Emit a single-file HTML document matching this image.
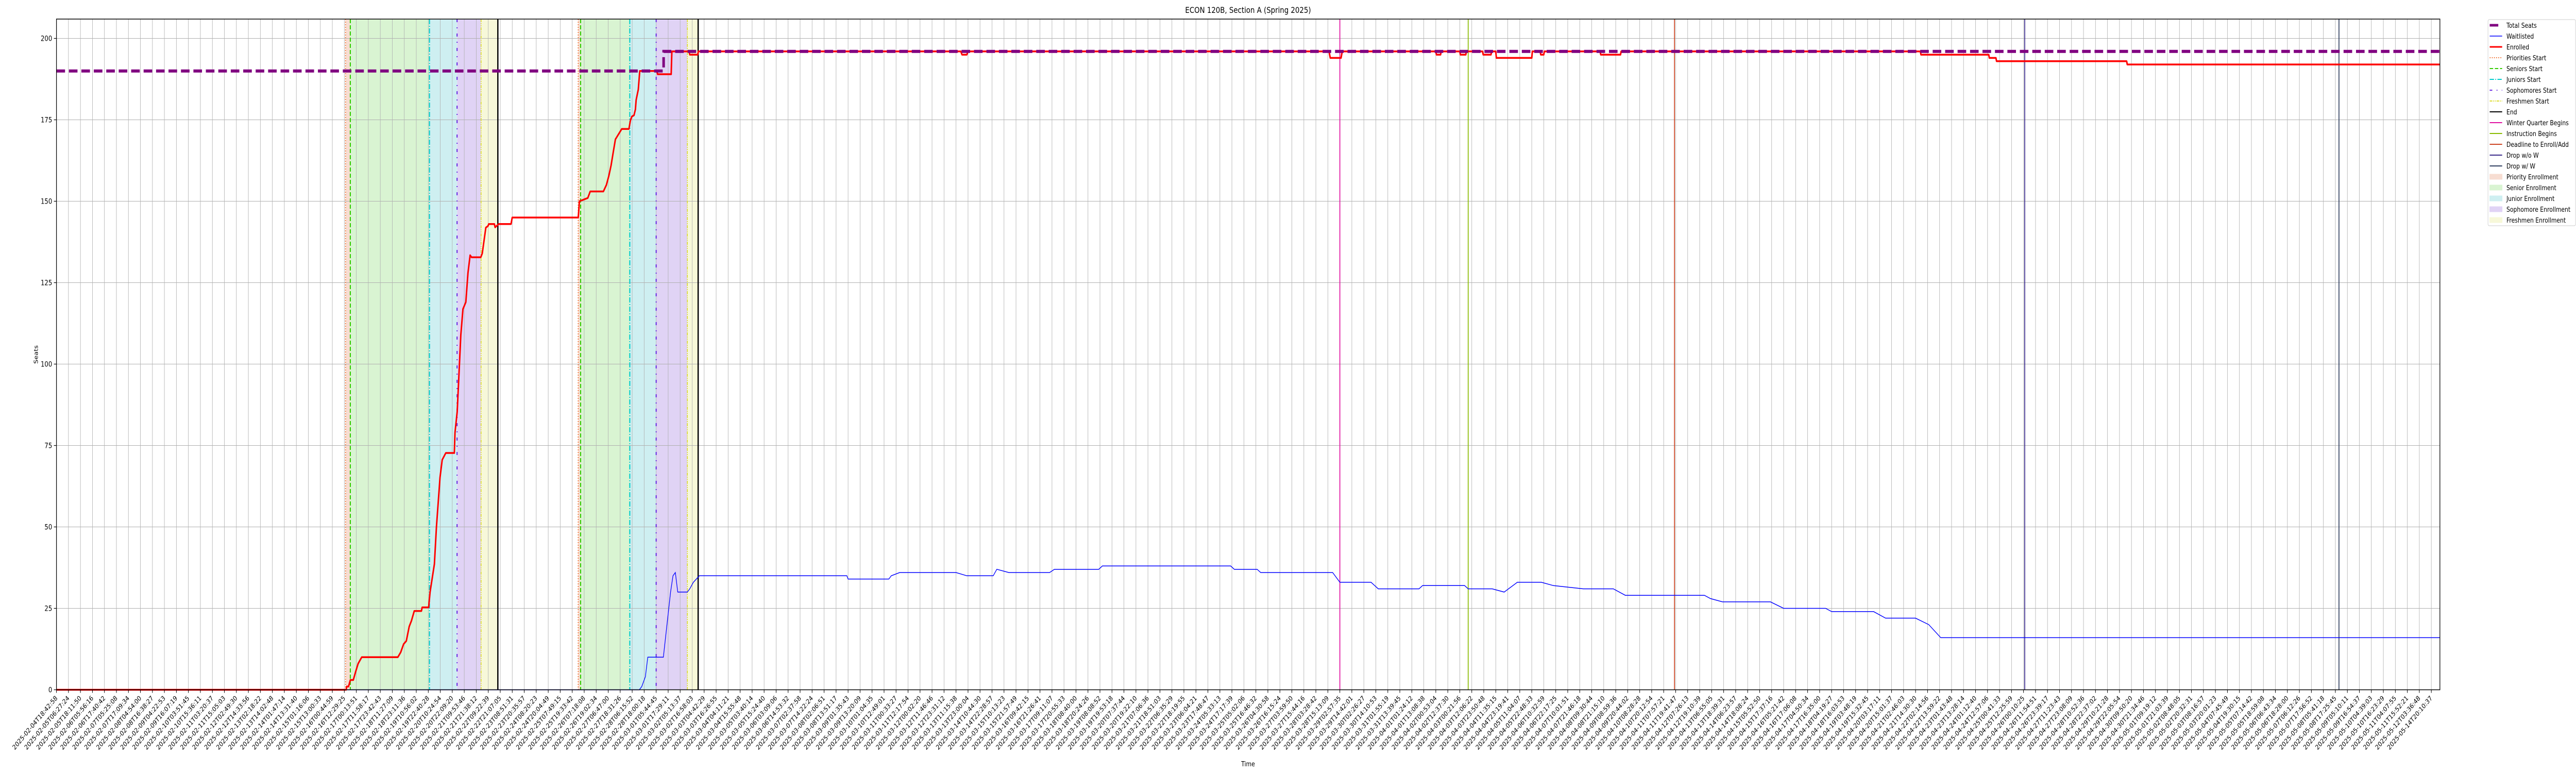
<!DOCTYPE html>
<html>
<head>
<meta charset="utf-8">
<style>
html,body{margin:0;padding:0;background:#fff;width:100vw;height:100vh;overflow:hidden;}
svg{display:block;width:100vw;height:100vh;font-family:"DejaVu Sans","Liberation Sans",sans-serif;}
</style>
</head>
<body>
<svg id="chart" viewBox="0 0 6000 1500" preserveAspectRatio="none" xmlns="http://www.w3.org/2000/svg">
  <text x="2907" y="25" font-size="16" text-anchor="middle">ECON 120B, Section A (Spring 2025)</text>
  <text x="2907" y="1487" font-size="13" text-anchor="middle">Time</text>
  <text x="0" y="0" font-size="13" text-anchor="middle" transform="translate(88,688) rotate(-90)">Seats</text>
  <g id="shades"></g>
  <g id="grid"></g>
  <g id="vlines"></g>
  <g id="series"></g>
  <g id="axes"></g>
  <g id="legend"></g>
</svg>
<script>
// ---- data ----
const yTicks = [0, 25, 50, 75, 100, 125, 150, 175, 200];
const tickStart = "2025-02-04T18:42:58";
const tickLastRegular = "2025-05-12T03:36:48";
const tickFinal = "2025-05-14T20:10:37";
const tickCount = 199;

const seatsX = [0, 50.62, 50.62, 198.7];
const seatsY = [190, 190, 196, 196];

const enrolledX = [0,24.15,24.2,24.35,24.5,24.75,24.95,25.15,25.45,28.46,28.7,28.94,29.17,29.41,29.6,29.83,30.43,30.49,31.03,31.15,31.51,31.68,31.98,32.16,32.46,33.17,33.23,33.41,33.59,33.71,33.89,34.13,34.31,34.49,34.61,35.38,35.5,35.8,35.98,36.04,36.51,36.57,36.87,37.9,38.0,43.5,43.6,44.3,44.5,45.6,45.85,46.06,46.24,46.42,46.6,47.13,47.73,47.85,47.97,48.15,48.27,48.33,48.51,48.63,50.06,50.12,51.25,51.31,52.74,52.8,53.46,53.52,75.4,75.5,75.9,76.0,106.1,106.2,107.1,107.2,115.0,115.05,115.4,115.45,117.0,117.05,117.5,117.55,118.9,118.95,119.6,119.65,120.0,120.05,123.0,123.05,123.7,123.75,124.0,124.05,128.7,128.75,130.4,130.45,155.4,155.45,161.1,161.15,161.7,161.75,172.6,172.65,198.7];
const enrolledY = [0,0,1,1,3,3,5.6,8,10,10,11.5,14,15,19.4,21.2,24.2,24.2,25.3,25.3,30,38.6,49.9,65.2,70.6,72.7,72.7,79,85.4,99.3,108.9,116.9,119,128,133.4,132.8,132.8,134,141.9,142.4,143,143,142,143,143,145,145,150,151,153,153,155,157.9,161,165,169,172.2,172.2,174.8,176,176.4,178.2,181.1,184.3,190,190,189,189,196,196,195,195,196,196,195,195,196,196,194,194,196,196,195,195,196,196,195,195,196,196,195,195,196,196,194,194,196,196,195,195,196,196,195,195,196,196,195,195,194,194,193,193,192,192];

const waitX = [0,48.6,48.8,49.1,49.3,50.6,50.9,51.2,51.4,51.6,51.8,52.6,52.8,53.1,53.6,65.9,66.0,69.4,69.6,70.3,75.0,75.9,78.1,78.4,79.4,82.8,83.2,86.9,87.2,97.9,98.2,100.1,100.4,106.4,107.0,109.6,110.2,113.6,113.9,117.4,117.7,119.7,120.7,121.8,123.8,124.8,127.3,129.8,130.8,137.4,137.9,138.9,142.9,144.0,147.5,148.0,151.5,152.5,155.0,156.1,157.1,198.7];
const waitY = [0,0,1,4,10,10,20,30,35,36,30,30,31,33,35,35,34,34,35,36,36,35,35,37,36,36,37,37,38,38,37,37,36,36,33,33,31,31,32,32,31,31,30,33,33,32,31,31,29,29,28,27,27,25,25,24,24,22,22,20,16,16];

const eventNames = ["priorities-start","seniors-start","juniors-start","sophomores-start","freshmen-start","end"];
const block1 = [24.1, 24.5, 31.1, 33.4, 35.4, 36.8];
const block2 = [43.5, 43.7, 47.8, 50.0, 52.6, 53.5];
const winterBegins = 107.0;
const instructionBegins = 117.7;
const deadlineAdd = 134.9;
const dropNoW = 164.1;
const dropW = 190.3;

// ---- scales ----
const X0 = 131.5, XSTEP = 27.937, XMAX = 5683;
const Y0 = 1338.5, YPX = 6.32, YTOP = 37;
function sx(u){ return X0 + u*XSTEP; }
function sy(v){ return Y0 - v*YPX; }
const NS = "http://www.w3.org/2000/svg";
function mk(tag, parent, attrs){
  const e = document.createElementNS(NS, tag);
  for (const k in attrs) e.setAttribute(k, attrs[k]);
  parent.appendChild(e);
  return e;
}
const shades = document.getElementById('shades');
const grid = document.getElementById('grid');
const vlines = document.getElementById('vlines');
const series = document.getElementById('series');
const axes = document.getElementById('axes');
const legend = document.getElementById('legend');

// shading
const shadeColors = ["#f7ddd2","#d9f4d2","#ceeff1","#e0d3f5","#f7f8d9"];
const shadeNames = ["priority-enrollment","senior-enrollment","junior-enrollment","sophomore-enrollment","freshmen-enrollment"];
[block1, block2].forEach(function(b){
  for (let i = 0; i < 5; i++){
    const r = mk('rect', shades, {x: sx(b[i]), y: YTOP, width: sx(b[i+1]) - sx(b[i]), height: Y0 - YTOP, fill: shadeColors[i]});
    
    
  }
});

// tick labels
function fmt(d){
  const p = n => String(n).padStart(2,'0');
  return d.getUTCFullYear()+"-"+p(d.getUTCMonth()+1)+"-"+p(d.getUTCDate())+"T"+p(d.getUTCHours())+":"+p(d.getUTCMinutes())+":"+p(d.getUTCSeconds());
}
const t0 = Date.parse(tickStart+"Z"), t1 = Date.parse(tickLastRegular+"Z");
const xTickLabels = [];
for (let i = 0; i < tickCount - 1; i++){
  xTickLabels.push(fmt(new Date(t0 + (t1 - t0) * i / (tickCount - 2))));
}
xTickLabels.push(tickFinal);

// grid
for (let i = 0; i < tickCount; i++){
  const x = sx(i);
  const l = mk('line', grid, {x1: x, x2: x, y1: YTOP, y2: Y0, stroke: "#b0b0b0", "stroke-width": 1});
  
  
}
yTicks.forEach(function(v){
  const l = mk('line', grid, {x1: X0, x2: XMAX, y1: sy(v), y2: sy(v), stroke: "#b0b0b0", "stroke-width": 1});
  
  
});

// event lines
const evStyles = [
  {c:"#f07030", w:2, d:"2 3"},
  {c:"#33cc00", w:2.5, d:"8 4"},
  {c:"#00cccc", w:2.5, d:"10 3 2 3"},
  {c:"#6a2be2", w:2.5, d:"6 10 2 10"},
  {c:"#dddd33", w:2, d:"6 2 2 2 2 2"},
  {c:"#000000", w:3, d:"none"}
];
[block1, block2].forEach(function(b){
  b.forEach(function(u, i){
    const s = evStyles[i];
    const l = mk('line', vlines, {x1: sx(u), x2: sx(u), y1: YTOP, y2: Y0, stroke: s.c, "stroke-width": s.w, "stroke-dasharray": s.d});
    
    
  });
});
const otherEvents = [[winterBegins,"#e010a0","winter-quarter-begins-line"],[instructionBegins,"#88bb00","instruction-begins-line"],[deadlineAdd,"#cc4422","deadline-enroll-add-line"],[dropNoW,"#3a2a8a","drop-without-w-line"],[dropW,"#2f3f60","drop-with-w-line"]];
otherEvents.forEach(function(ev){
  const l = mk('line', vlines, {x1: sx(ev[0]), x2: sx(ev[0]), y1: YTOP, y2: Y0, stroke: ev[1], "stroke-width": 2});
  
  
});

// series
function pts(xs, ys){ return xs.map((u,i)=> sx(u).toFixed(1)+","+sy(ys[i]).toFixed(1)).join(" "); }
const wl = mk('polyline', series, {points: pts(waitX, waitY), fill:"none", stroke:"#0000ff", "stroke-width":1.5});


const el = mk('polyline', series, {points: pts(enrolledX, enrolledY), fill:"none", stroke:"#ff0000", "stroke-width":3.5, "stroke-linejoin":"round"});


const st = mk('polyline', series, {points: pts(seatsX, seatsY), fill:"none", stroke:"#800080", "stroke-width":6, "stroke-dasharray":"20 9"});



// axes frame
const fr = mk('rect', axes, {x: X0, y: YTOP, width: XMAX - X0, height: Y0 - YTOP, fill:"none", stroke:"#000", "stroke-width":1.5});


yTicks.forEach(function(v){
  const y = sy(v);
  const tk = mk('line', axes, {x1: X0-6, x2: X0, y1: y, y2: y, stroke:"#000", "stroke-width":1.2});
  
  
  const t = mk('text', axes, {x: X0-10, y: y+5, "font-size":14, "text-anchor":"end"});
  t.textContent = String(v);
  
  
});
xTickLabels.forEach(function(lab, i){
  const x = sx(i);
  const tk = mk('line', axes, {x1: x, x2: x, y1: Y0, y2: Y0+6, stroke:"#000", "stroke-width":1.2});
  
  
  const t = mk('text', axes, {x: 0, y: 0, "font-size":13, "text-anchor":"end", transform:"translate("+(x+3)+","+(Y0+17)+") rotate(-45)"});
  t.textContent = lab;
  
  
});

// legend
const legendLabels = ["Total Seats","Waitlisted","Enrolled","Priorities Start","Seniors Start","Juniors Start","Sophomores Start","Freshmen Start","End","Winter Quarter Begins","Instruction Begins","Deadline to Enroll/Add","Drop w/o W","Drop w/ W","Priority Enrollment","Senior Enrollment","Junior Enrollment","Sophomore Enrollment","Freshmen Enrollment"];
const legendHandles = [
  {c:"#800080",w:5,d:"none",len:20},{c:"#0000ff",w:1.5,d:"none"},{c:"#ff0000",w:3,d:"none"},
  {c:"#f07030",w:2,d:"2 3"},{c:"#33cc00",w:2,d:"8 4"},{c:"#00cccc",w:2,d:"10 3 2 3"},{c:"#6a2be2",w:2,d:"6 10 2 10"},{c:"#dddd33",w:2,d:"6 2 2 2 2 2"},
  {c:"#000000",w:2,d:"none"},{c:"#e010a0",w:2,d:"none"},{c:"#88bb00",w:2,d:"none"},{c:"#cc4422",w:2,d:"none"},{c:"#3a2a8a",w:2,d:"none"},{c:"#2f3f60",w:2,d:"none"},
  {box:"#f7ddd2"},{box:"#d9f4d2"},{box:"#ceeff1"},{box:"#e0d3f5"},{box:"#f7f8d9"}
];
const lb = mk('rect', legend, {x:5795, y:38, width:204, height:400, rx:3, fill:"#fff", stroke:"#cccccc", "stroke-width":1});


legendLabels.forEach(function(lab, i){
  const y = 49 + i*21;
  const h = legendHandles[i];
  const g = mk('g', legend, {});
  
  
  if (h.box){
    mk('rect', g, {x:5799, y:y-5, width:29, height:10, fill:h.box, stroke:h.box});
  } else {
    mk('line', g, {x1:5799, x2:5799+(h.len||29), y1:y, y2:y, stroke:h.c, "stroke-width":h.w, "stroke-dasharray":h.d});
  }
  const t = mk('text', g, {x:5838, y:y+5, "font-size":13});
  t.textContent = lab;
});
</script>
</body>
</html>
